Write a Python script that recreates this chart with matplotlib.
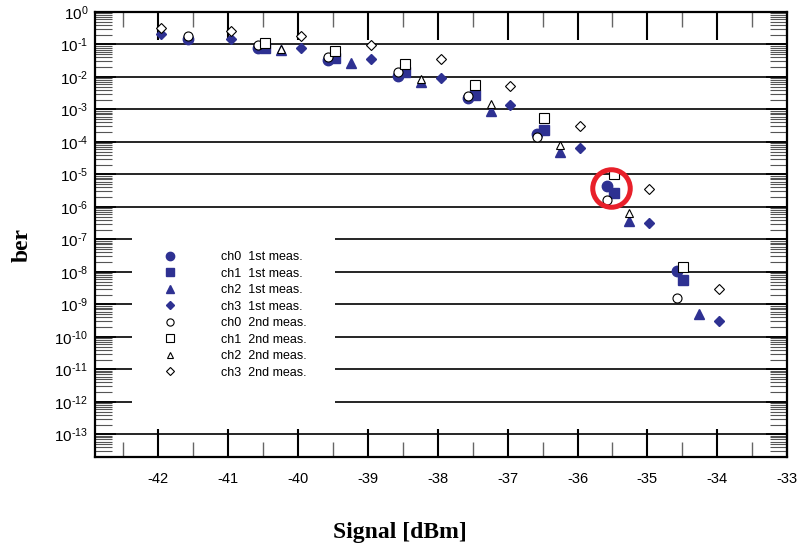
import matplotlib
matplotlib.use('Agg')
import numpy as np
import matplotlib.pyplot as plt
from matplotlib.ticker import LogLocator, MultipleLocator, FuncFormatter, NullFormatter
from matplotlib.patches import Rectangle

plt.rcParams['font.family'] = 'Liberation Sans'
plt.rcParams['mathtext.fontset'] = 'custom'
plt.rcParams['mathtext.rm'] = 'Liberation Sans'
plt.rcParams['mathtext.it'] = 'Liberation Sans:italic'
plt.rcParams['mathtext.bf'] = 'Liberation Sans:bold'
plt.rcParams['axes.unicode_minus'] = False

# signal [dBm] and bit error rate per channel
ch0_x = [-41.57, -40.57, -39.57, -38.57, -37.57, -36.58, -35.58, -34.58]
ch0_1st = [0.147, 0.076, 0.033, 0.0108, 0.0023, 1.7e-4, 4.4e-6, 1.1e-8]
ch0_2nd = [0.18, 0.094, 0.040, 0.0138, 0.0026, 1.41e-4, 1.58e-6, 1.56e-9]

ch1_x = [-40.47, -39.47, -38.47, -37.47, -36.48, -35.48, -34.49]
ch1_1st = [0.079, 0.039, 0.0138, 0.0027, 2.3e-4, 2.6e-6, 5.7e-9]
ch1_2nd = [0.108, 0.064, 0.025, 0.0056, 5.5e-4, 1.05e-5, 1.38e-8]

ch2_x1 = [-40.24, -39.24, -38.24, -37.24, -36.25, -35.26, -34.26]
ch2_1st = [0.067, 0.027, 0.0071, 0.0009, 4.9e-5, 3.8e-7, 5.0e-10]
ch2_x2 = [-40.24, -38.24, -37.24, -36.25, -35.26]
ch2_2nd = [0.071, 0.0085, 0.00145, 7.9e-5, 6.6e-7]

ch3_x = [-41.96, -40.96, -39.96, -38.96, -37.96, -36.96, -35.96, -34.97, -33.97]
ch3_1st = [0.21, 0.144, 0.079, 0.035, 0.0096, 0.00135, 6.7e-5, 3.2e-7, 3.1e-10]
ch3_2nd = [0.32, 0.26, 0.18, 0.094, 0.035, 0.0052, 3.1e-4, 3.6e-6, 2.95e-9]

# highlighted point (red ring)
hl_x = -35.52
hl_y = 3.8e-6

blue = '#2E3192'

fig = plt.figure(figsize=(8, 5.46), dpi=100)
ax = fig.add_axes([0.119, 0.163, 0.865, 0.815])

ax.set_yscale('log')
ax.set_xlim(-42.9, -33)
ax.set_ylim(2e-14, 1)

# decade grid lines
ax.grid(True, which='major', axis='y', color='black', linewidth=1.2)
ax.set_axisbelow(True)
# the legend blanks out the grid behind it (pixel box)
ax.add_patch(Rectangle((132, 131), 203, 193, transform=None, facecolor='white',
                       edgecolor='none', zorder=1))

filled = dict(color=blue, linestyle='none', zorder=3)
hollow = dict(markerfacecolor='white', markeredgecolor='black', linestyle='none',
              markeredgewidth=0.8, zorder=4)

ax.plot(ch0_x, ch0_1st, marker='o', markersize=7.5, label='ch0  1st meas.', **filled)
ax.plot(ch1_x, ch1_1st, marker='s', markersize=7, label='ch1  1st meas.', **filled)
ax.plot(ch2_x1, ch2_1st, marker='^', markersize=7, label='ch2  1st meas.', **filled)
ax.plot(ch3_x, ch3_1st, marker='D', markersize=5.5, label='ch3  1st meas.', **filled)
ax.plot(ch0_x, ch0_2nd, marker='o', markersize=6.5, label='ch0  2nd meas.', **hollow)
ax.plot(ch1_x, ch1_2nd, marker='s', markersize=7, label='ch1  2nd meas.', **hollow)
ax.plot(ch2_x2, ch2_2nd, marker='^', markersize=6, label='ch2  2nd meas.', **hollow)
ax.plot(ch3_x, ch3_2nd, marker='D', markersize=5, label='ch3  2nd meas.', **hollow)

ax.plot([hl_x], [hl_y], marker='o', markersize=27, markerfacecolor='none',
        markeredgecolor='#E8202A', markeredgewidth=3.6, linestyle='none', zorder=5)

leg = ax.legend(loc='upper left', bbox_to_anchor=(0.083, 0.488), frameon=False,
                fontsize=9, handletextpad=3.6, labelspacing=0.36, markerscale=0.8,
                handlelength=1.0)
leg.set_zorder(6)


def decade_label(v, pos):
    return r'$10^{\text{%d}}$' % int(round(np.log10(v)))


ax.xaxis.set_major_locator(MultipleLocator(1))
ax.xaxis.set_minor_locator(MultipleLocator(0.5))
ax.set_yticks([10.0 ** -k for k in range(0, 14)])
ax.yaxis.set_major_formatter(FuncFormatter(decade_label))
ax.yaxis.set_minor_locator(LogLocator(base=10, subs=(2, 3, 4, 5, 6, 7, 8, 9), numticks=20))
ax.yaxis.set_minor_formatter(NullFormatter())

ax.tick_params(axis='x', which='major', direction='in', top=True, length=20, width=1.5,
               labelsize=10.5, pad=11)
ax.tick_params(axis='x', which='minor', direction='in', top=True, length=11, width=1.0,
               color='#666666')
ax.tick_params(axis='y', which='major', direction='in', right=True, length=15, width=1.2,
               labelsize=11, pad=5)
ax.tick_params(axis='y', which='minor', direction='in', right=True, length=12, width=0.8,
               color='#555555')

for sp in ax.spines.values():
    sp.set_linewidth(1.6)

fig.text(0.5, 0.024, 'Signal [dBm]', ha='center', va='center', fontsize=17,
         fontweight='bold', family='Liberation Serif')
fig.text(0.0275, 0.551, 'ber', ha='center', va='center', rotation=90, fontsize=17,
         fontweight='bold', family='Liberation Serif')

fig.savefig('out.png', dpi=100)
